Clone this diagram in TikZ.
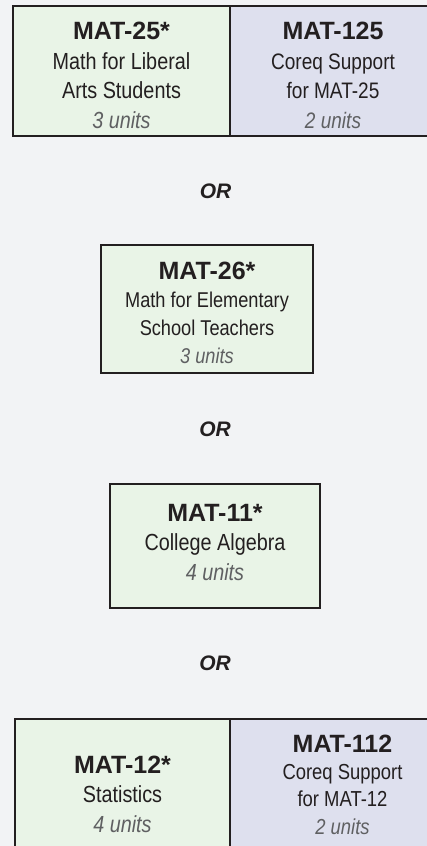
\documentclass[tikz,border=0pt]{standalone}
\usepackage{fontspec}
\setmainfont{Liberation Sans}
\newfontfamily\narrowfont[FakeStretch=0.85]{Liberation Sans}
\definecolor{pagebg}{RGB}{242,243,245}
\definecolor{coursegreen}{RGB}{233,244,231}
\definecolor{coreqblue}{RGB}{222,224,238}
\definecolor{edgedark}{RGB}{35,31,32}
\definecolor{unitgray}{RGB}{95,96,98}
\newcommand{\code}[1]{{\rmfamily\bfseries\fontsize{25}{29}\selectfont #1}}
\newcommand{\units}[1]{{\color{unitgray}\itshape #1}}
\tikzset{
  cell/.style={draw=edgedark, line width=2pt, inner sep=0pt},
  course/.style={cell, fill=coursegreen},
  coreq/.style={cell, fill=coreqblue},
  info/.style={align=center, anchor=base, inner sep=0pt, text=edgedark,
    font=\narrowfont\fontsize{23.3}{29.5}\selectfont},
  ortext/.style={inner sep=0pt, text=edgedark, font=\rmfamily\bfseries\itshape\fontsize{21}{25}\selectfont},
}
\begin{document}
\begin{tikzpicture}[x=1pt,y=-1pt]
\useasboundingbox (0,0) rectangle (427,846);
\fill[pagebg] (0,0) rectangle (427,846);
\clip (0,0) rectangle (427,846);
\node[course, minimum width=217.3pt, minimum height=130pt] (mat25) at (121.6,71) {};
\node[coreq, minimum width=205.7pt, minimum height=130pt] (mat125) at (333.2,71) {};
\node[info] (t25) at (121.5,128.3) {\code{MAT-25*}\\Math for Liberal\\Arts Students\\\units{3 units}};
\node[info, font=\narrowfont\fontsize{22.4}{29.5}\selectfont] (t125) at (333,128.3) {\code{MAT-125}\\Coreq Support\\for MAT-25\\\units{2 units}};
\node[ortext] (or1) at (215.5,191) {OR};
\node[course, minimum width=211.7pt, minimum height=127.7pt] (mat26) at (206.9,308.9) {};
\node[info, font=\narrowfont\fontsize{21.4}{27.8}\selectfont] (t26) at (207,363.3) {\code{MAT-26*}\\Math for Elementary\\School Teachers\\\units{3 units}};
\node[ortext] (or2) at (215,429.5) {OR};
\node[course, minimum width=209.7pt, minimum height=124pt] (mat11) at (214.9,546.3) {};
\node[info, font=\narrowfont\fontsize{23.3}{29.2}\selectfont] (t11) at (215,580) {\code{MAT-11*}\\College Algebra\\\units{4 units}};
\node[ortext] (or3) at (215,663) {OR};
\node[course, minimum width=215pt, minimum height=151.5pt] (mat12) at (122.5,794.25) {};
\node[coreq, minimum width=225pt, minimum height=151.5pt] (mat112) at (342.5,794.25) {};
\node[info] (t12) at (122.5,832) {\code{MAT-12*}\\Statistics\\\units{4 units}};
\node[info, font=\narrowfont\fontsize{21.7}{27.3}\selectfont] (t112) at (342.5,834) {\code{MAT-112}\\Coreq Support\\for MAT-12\\\units{2 units}};
\end{tikzpicture}
\end{document}
